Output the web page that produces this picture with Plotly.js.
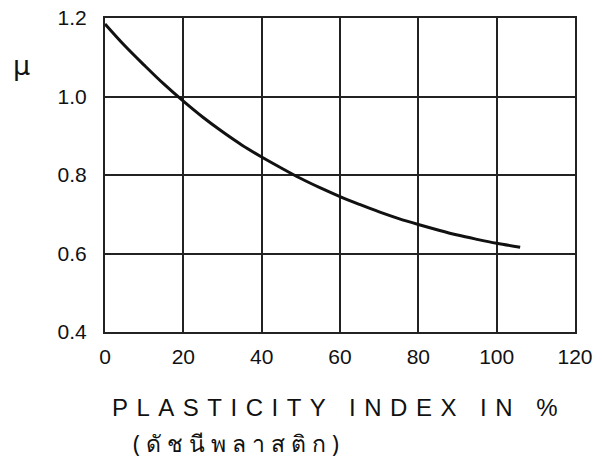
<!DOCTYPE html>
<html>
<head>
<meta charset="utf-8">
<script src="https://cdn.plot.ly/plotly-3.0.1.min.js"></script>
<style>html,body{margin:0;padding:0;background:#fff;}#chart{width:602px;height:468px;}</style>
</head>
<body>
<div id="chart"></div>
<script>
const plasticityIndex = [0, 5, 10, 15, 20, 25, 30, 35, 40, 45, 50, 55, 60, 65, 70, 75, 80, 85, 90, 95, 100, 106];
const muValues = [1.185, 1.13, 1.08, 1.032, 0.988, 0.947, 0.91, 0.876, 0.846, 0.818, 0.791, 0.767, 0.745, 0.725, 0.706, 0.689, 0.674, 0.66, 0.647, 0.636, 0.626, 0.616];
const xTicks = [0, 20, 40, 60, 80, 100, 120];
const yTicks = [0.4, 0.6, 0.8, 1.0, 1.2];
const xTitle = "PLASTICITY INDEX IN %";
const xSubTitle = "(ดัชนีพลาสติก)";
const yTitle = "μ";

const tickFont = {family: "Liberation Sans, Arial, sans-serif", size: 21, color: "#111"};

const trace = {
  x: plasticityIndex,
  y: muValues,
  type: "scatter",
  mode: "lines",
  line: {color: "#111", width: 3, shape: "spline", smoothing: 1},
  hoverinfo: "skip"
};

const layout = {
  width: 602,
  height: 468,
  margin: {l: 105, r: 27, t: 18, b: 136},
  paper_bgcolor: "#fff",
  plot_bgcolor: "#fff",
  showlegend: false,
  xaxis: {
    range: [0, 120],
    tickvals: xTicks,
    ticktext: xTicks.map(String),
    showgrid: true, gridcolor: "#222", gridwidth: 2,
    showline: true, linecolor: "#222", linewidth: 2, mirror: true,
    zeroline: false,
    ticks: "", ticklabelstandoff: 5,
    tickfont: tickFont
  },
  yaxis: {
    range: [0.4, 1.2],
    tickvals: yTicks,
    ticktext: yTicks.map(v => v.toFixed(1)),
    showgrid: true, gridcolor: "#222", gridwidth: 2,
    showline: true, linecolor: "#222", linewidth: 2, mirror: true,
    zeroline: false,
    ticks: "", ticklabelstandoff: 12,
    tickfont: tickFont
  },
  annotations: [
    {
      xref: "paper", yref: "paper", x: 0.497, y: -0.239,
      xanchor: "center", yanchor: "middle", showarrow: false,
      text: '<span style="letter-spacing:8.5px">' + xTitle + '</span>',
      font: {family: "Liberation Sans, Arial, sans-serif", size: 24, color: "#111"}
    },
    {
      xref: "paper", yref: "paper", x: 0.285, y: -0.354,
      xanchor: "center", yanchor: "middle", showarrow: false,
      text: '<span style="letter-spacing:6px">' + xSubTitle + '</span>',
      font: {family: "Noto Sans, DejaVu Sans, sans-serif", size: 23, color: "#111"}
    },
    {
      xref: "paper", yref: "paper", x: -0.177, y: 0.85,
      xanchor: "center", yanchor: "middle", showarrow: false,
      text: yTitle,
      font: {family: "DejaVu Sans, sans-serif", size: 27, color: "#111"}
    }
  ]
};

Plotly.newPlot("chart", [trace], layout, {displayModeBar: false, staticPlot: true});
</script>
</body>
</html>
